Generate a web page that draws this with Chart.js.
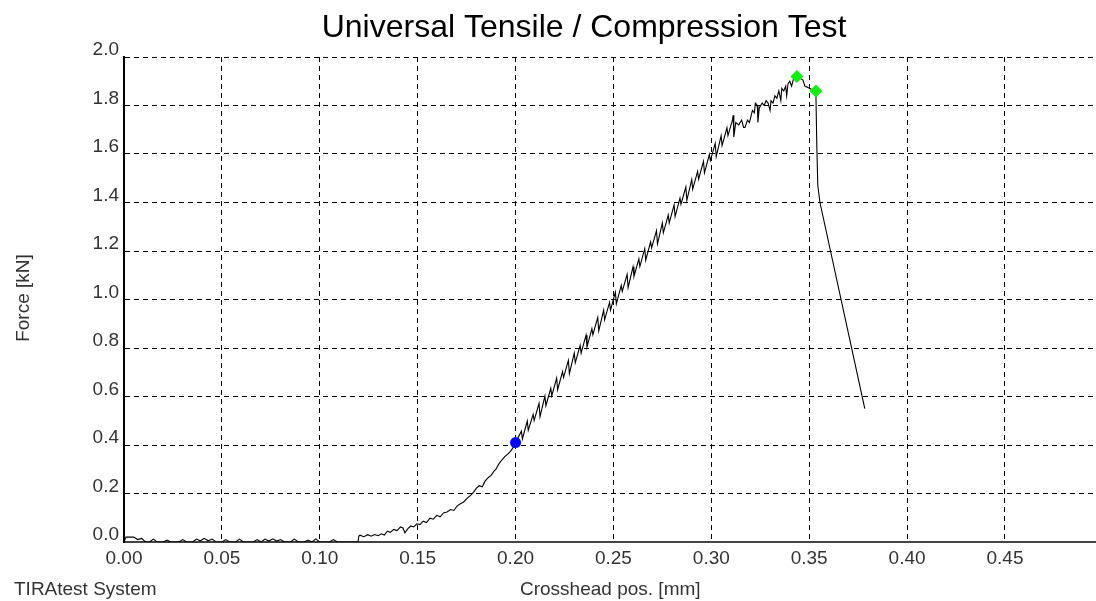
<!DOCTYPE html>
<html>
<head>
<meta charset="utf-8">
<script src="https://cdn.jsdelivr.net/npm/chart.js@4.4.1/dist/chart.umd.min.js"></script>
<style>
  html, body { margin: 0; padding: 0; background: #ffffff; }
  #wrap { width: 1096px; height: 601px; position: relative; }
</style>
</head>
<body>
<div id="wrap"><canvas id="c" width="1096" height="601"></canvas></div>
<script>
// ---- data ----
const titleText = 'Universal Tensile / Compression Test';
const yTitleText = 'Force [kN]';
const xTitleText = 'Crosshead pos. [mm]';
const footerText = 'TIRAtest System';

// tick values
const xTickValues = [0.00, 0.05, 0.10, 0.15, 0.20, 0.25, 0.30, 0.35, 0.40, 0.45];
const yTickValues = [0.0, 0.2, 0.4, 0.6, 0.8, 1.0, 1.2, 1.4, 1.6, 1.8, 2.0];

// baseline noise (0 .. 0.12 mm)
const noiseX = [0.000,0.001,0.005,0.007,0.009,0.011,0.013,0.015,0.017,0.020,0.022,0.024,0.028,0.030,0.032,0.035,0.037,0.039,0.041,0.043,0.045,0.047,0.050,0.052,0.054,0.057,0.059,0.061,0.064,0.066,0.068,0.070,0.072,0.074,0.076,0.078,0.080,0.082,0.085,0.087,0.089,0.092,0.094,0.096,0.098,0.100,0.103,0.105,0.107,0.109,0.112,0.1195];
const noiseY = [0.000,0.020,0.020,0.010,0.015,0.000,0.000,0.012,0.000,0.000,0.008,0.000,0.000,0.010,0.000,0.000,0.012,0.005,0.015,0.005,0.012,0.000,0.000,0.010,0.000,0.000,0.012,0.000,0.000,0.000,0.010,0.000,0.012,0.004,0.013,0.004,0.010,0.000,0.000,0.012,0.000,0.000,0.008,0.000,0.013,0.000,0.000,0.000,0.010,0.000,0.000,0.000];

// toe region (0.12 .. 0.20 mm)
const toeX = [0.1200,0.1205,0.1225,0.1245,0.1262,0.1280,0.1298,0.1315,0.1330,0.1345,0.1360,0.1378,0.1395,0.1412,0.1425,0.1435,0.1450,0.1465,0.1480,0.1496,0.1512,0.1528,0.1545,0.1563,0.1580,0.1598,0.1615,0.1632,0.1650,0.1668,0.1685,0.1701,0.1718,0.1735,0.1752,0.1770,0.1785,0.1800,0.1815,0.1830,0.1845,0.1860,0.1875,0.1890,0.1900,0.1915,0.1930,0.1945,0.1960,0.1975,0.1990,0.2000];
const toeY = [0.025,0.028,0.022,0.030,0.024,0.031,0.026,0.034,0.029,0.045,0.040,0.052,0.047,0.062,0.058,0.038,0.055,0.066,0.062,0.075,0.072,0.086,0.080,0.098,0.094,0.110,0.104,0.120,0.124,0.134,0.130,0.148,0.158,0.165,0.180,0.192,0.205,0.222,0.232,0.228,0.252,0.265,0.275,0.292,0.300,0.322,0.338,0.352,0.362,0.375,0.392,0.410];

// linear (sawtooth) region (0.20 .. 0.31 mm)
const rampX = [0.2030,0.2035,0.2060,0.2065,0.2090,0.2095,0.2120,0.2125,0.2150,0.2155,0.2180,0.2185,0.2210,0.2215,0.2240,0.2245,0.2270,0.2275,0.2300,0.2305,0.2330,0.2335,0.2360,0.2365,0.2390,0.2395,0.2420,0.2425,0.2450,0.2455,0.2480,0.2485,0.2510,0.2515,0.2540,0.2545,0.2570,0.2575,0.2600,0.2605,0.2630,0.2635,0.2660,0.2665,0.2690,0.2695,0.2720,0.2725,0.2750,0.2755,0.2780,0.2785,0.2810,0.2815,0.2840,0.2845,0.2870,0.2875,0.2900,0.2905,0.2930,0.2935,0.2960,0.2965,0.2990,0.2995,0.3020,0.3025,0.3050,0.3055,0.3080,0.3085];
const rampY = [0.457,0.425,0.499,0.461,0.526,0.501,0.572,0.517,0.602,0.562,0.634,0.602,0.676,0.628,0.703,0.678,0.749,0.694,0.779,0.739,0.811,0.779,0.853,0.805,0.880,0.855,0.926,0.871,0.956,0.916,0.988,0.956,1.030,0.982,1.058,1.033,1.104,1.049,1.135,1.095,1.168,1.136,1.210,1.162,1.238,1.213,1.284,1.229,1.315,1.275,1.348,1.316,1.390,1.342,1.418,1.393,1.464,1.409,1.495,1.455,1.528,1.496,1.570,1.522,1.598,1.573,1.644,1.589,1.675,1.635,1.708,1.676];

// near the maximum (0.31 .. 0.3534 mm)
const peakX = [0.3108,0.3112,0.3115,0.3125,0.3140,0.3155,0.3165,0.3172,0.3185,0.3195,0.3210,0.3220,0.3225,0.3235,0.3238,0.3245,0.3260,0.3270,0.3280,0.3290,0.3300,0.3305,0.3315,0.3325,0.3335,0.3345,0.3355,0.3360,0.3370,0.3380,0.3385,0.3392,0.3401,0.3410,0.3420,0.3437,0.3468,0.3478,0.3504,0.3515,0.3534];
const peakY = [1.74,1.76,1.67,1.73,1.72,1.74,1.71,1.71,1.74,1.73,1.78,1.77,1.81,1.80,1.73,1.79,1.81,1.80,1.82,1.81,1.78,1.82,1.81,1.84,1.83,1.86,1.82,1.87,1.86,1.88,1.84,1.89,1.90,1.88,1.91,1.92,1.905,1.88,1.87,1.865,1.86];

// break (after 0.3534 mm)
const breakX = [0.3539,0.3544,0.3555,0.3784];
const breakY = [1.63,1.47,1.40,0.55];

// markers
const blueX = [0.2000];
const blueY = [0.410];
const greenX = [0.3437, 0.3534];
const greenY = [1.920, 1.860];

// axes range
const xMin = 0, xMax = 0.4965;
const yMin = 0, yMax = 2.0;

// ---- build chart ----
function pts(xs, ys) { return xs.map((x, i) => ({ x: x, y: ys[i] })); }
const curve = [].concat(pts(noiseX, noiseY), pts(toeX, toeY), pts(rampX, rampY), pts(peakX, peakY), pts(breakX, breakY));

const FONT = '"Liberation Sans", Arial, Helvetica, sans-serif';
Chart.defaults.font.family = FONT;

const textPlugin = {
  id: 'texts',
  beforeDraw(chart) {
    const ctx = chart.ctx;
    ctx.save();
    ctx.fillStyle = '#ffffff';
    ctx.fillRect(0, 0, chart.width, chart.height);
    ctx.restore();
  },
  afterDraw(chart) {
    const ctx = chart.ctx;
    ctx.save();
    ctx.fillStyle = '#000000';
    ctx.font = '32px ' + FONT;
    ctx.textAlign = 'center';
    ctx.textBaseline = 'alphabetic';
    ctx.fillText(titleText, 584, 37);

    ctx.fillStyle = '#333333';
    ctx.font = '19px ' + FONT;
    ctx.textAlign = 'left';
    ctx.fillText(footerText, 14, 595);
    ctx.fillText(xTitleText, 520, 595);

    ctx.translate(29, 298);
    ctx.rotate(-Math.PI / 2);
    ctx.textAlign = 'center';
    ctx.textBaseline = 'alphabetic';
    ctx.fillText(yTitleText, 0, 0);
    ctx.restore();
  }
};

new Chart(document.getElementById('c'), {
  type: 'scatter',
  data: {
    datasets: [
      { data: pts(greenX, greenY), pointStyle: 'rectRot', pointRadius: 6.5, backgroundColor: '#11ee11', borderColor: '#11ee11', borderWidth: 0, showLine: false },
      { data: pts(blueX, blueY), pointStyle: 'circle', pointRadius: 5.5, backgroundColor: '#0000ff', borderColor: '#0000ff', borderWidth: 0, showLine: false },
      { data: curve, showLine: true, borderColor: '#000000', borderWidth: 1.1, pointRadius: 0, tension: 0, fill: false }
    ]
  },
  options: {
    responsive: false,
    animation: false,
    devicePixelRatio: 1,
    layout: { autoPadding: false, padding: { top: 57, left: 0, right: 0, bottom: 0 } },
    plugins: { legend: { display: false }, tooltip: { enabled: false }, title: { display: false } },
    scales: {
      x: {
        type: 'linear', min: xMin, max: xMax,
        afterFit(s) { s.height = 59; s.paddingRight = 0; },
        afterBuildTicks(s) { s.ticks = xTickValues.map(v => ({ value: v })); },
        ticks: { padding: 5, color: '#333333', font: { size: 19 }, callback: v => Number(v).toFixed(2), maxRotation: 0, autoSkip: false },
        grid: { color: '#000000', lineWidth: 1, drawTicks: false },
        border: { display: true, color: '#444444', width: 2, dash: [5, 4] }
      },
      y: {
        type: 'linear', min: yMin, max: yMax,
        afterFit(s) { s.width = 124; },
        afterBuildTicks(s) { s.ticks = yTickValues.map(v => ({ value: v })); },
        ticks: { padding: 5, labelOffset: -7, color: '#333333', font: { size: 19 }, callback: v => Number(v).toFixed(1), autoSkip: false },
        grid: { color: '#000000', lineWidth: 1, drawTicks: false },
        border: { display: true, color: '#000000', width: 2, dash: [5, 4] }
      }
    }
  },
  plugins: [textPlugin]
});
</script>
</body>
</html>
